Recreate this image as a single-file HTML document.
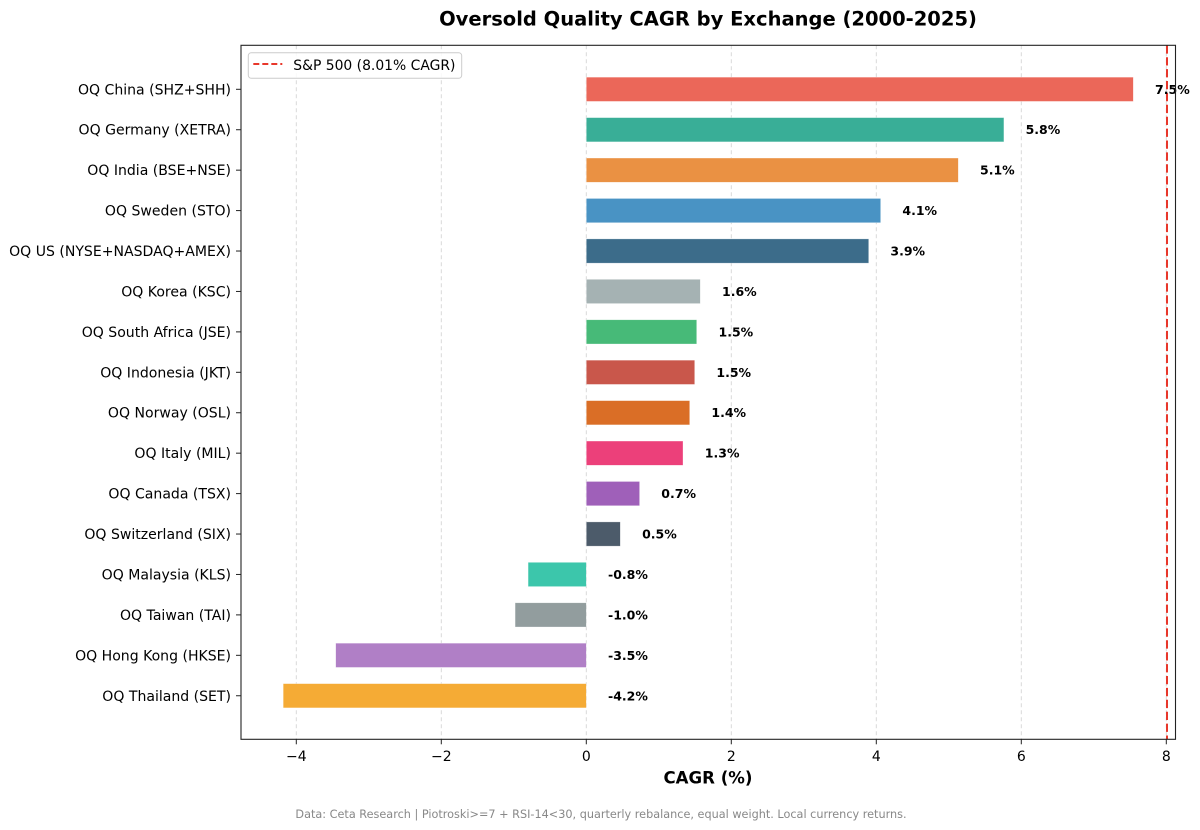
<!DOCTYPE html>
<html>
<head>
<meta charset="utf-8">
<style>
  html,body{margin:0;padding:0;background:#fff;}
  svg{display:block;}
  text{font-family:"DejaVu Sans","Liberation Sans",sans-serif;}
</style>
</head>
<body>
<svg width="1200" height="830" viewBox="0 0 1200 830" xmlns="http://www.w3.org/2000/svg">
  <rect width="1200" height="830" fill="#fff"/>
  <!-- Title -->
  <text x="708" y="25.5" font-size="19.5" font-weight="bold" text-anchor="middle" fill="#000">Oversold Quality CAGR by Exchange (2000-2025)</text>

  <!-- grid -->
  <g stroke="#d9d9d9" stroke-width="1" stroke-dasharray="4 3">
    <line x1="296.3" y1="45.3" x2="296.3" y2="739.3"/>
    <line x1="441.3" y1="45.3" x2="441.3" y2="739.3"/>
    <line x1="586.3" y1="45.3" x2="586.3" y2="739.3"/>
    <line x1="731.3" y1="45.3" x2="731.3" y2="739.3"/>
    <line x1="876.3" y1="45.3" x2="876.3" y2="739.3"/>
    <line x1="1021.3" y1="45.3" x2="1021.3" y2="739.3"/>
    <line x1="1166.3" y1="45.3" x2="1166.3" y2="739.3"/>
  </g>

  <!-- bars -->
  <g stroke="#ffffff" stroke-width="0.6" stroke-opacity="0.5">
    <rect x="586.3" y="77.17" width="547.0" height="24.26" fill="#eb6759"/>
    <rect x="586.3" y="117.6" width="417.6" height="24.26" fill="#39ae97"/>
    <rect x="586.3" y="158.03" width="372.0" height="24.26" fill="#ea9143"/>
    <rect x="586.3" y="198.46" width="294.35" height="24.26" fill="#4993c4"/>
    <rect x="586.3" y="238.89" width="282.4" height="24.26" fill="#3c6c8a"/>
    <rect x="586.3" y="279.32" width="114.0" height="24.26" fill="#a5b2b3"/>
    <rect x="586.3" y="319.75" width="110.4" height="24.26" fill="#47ba78"/>
    <rect x="586.3" y="360.18" width="108.4" height="24.26" fill="#c9574b"/>
    <rect x="586.3" y="400.61" width="103.4" height="24.26" fill="#da6e26"/>
    <rect x="586.3" y="441.04" width="96.7" height="24.26" fill="#ec407a"/>
    <rect x="586.3" y="481.47" width="53.3" height="24.26" fill="#9f60b9"/>
    <rect x="586.3" y="521.9" width="34.0" height="24.26" fill="#4c5b6a"/>
    <rect x="528.1" y="562.33" width="58.2" height="24.26" fill="#3cc6ab"/>
    <rect x="515.1" y="602.76" width="71.2" height="24.26" fill="#929d9e"/>
    <rect x="335.7" y="643.19" width="250.6" height="24.26" fill="#b07fc6"/>
    <rect x="283.2" y="683.62" width="303.1" height="24.26" fill="#f5ab35"/>
  </g>

  <!-- S&P line -->
  <line x1="1167" y1="45.3" x2="1167" y2="739.3" stroke="#e8372b" stroke-width="2" stroke-dasharray="8.3 3.6"/>

  <!-- value labels -->
  <g font-size="12.5" font-weight="bold" fill="#000">
    <text x="1155.05" y="93.8">7.5%</text>
    <text x="1025.6" y="134.2">5.8%</text>
    <text x="980.0" y="174.7">5.1%</text>
    <text x="902.4" y="215.1">4.1%</text>
    <text x="890.4" y="255.5">3.9%</text>
    <text x="722.0" y="296.0">1.6%</text>
    <text x="718.5" y="336.4">1.5%</text>
    <text x="716.4" y="376.8">1.5%</text>
    <text x="711.4" y="417.2">1.4%</text>
    <text x="704.8" y="457.7">1.3%</text>
    <text x="661.3" y="498.1">0.7%</text>
    <text x="642.1" y="538.5">0.5%</text>
    <text x="608.05" y="579.0">-0.8%</text>
    <text x="608.05" y="619.4">-1.0%</text>
    <text x="608.05" y="659.8">-3.5%</text>
    <text x="608.05" y="700.3">-4.2%</text>
  </g>

  <!-- axes frame -->
  <rect x="241" y="45.3" width="934.5" height="694" fill="none" stroke="#222" stroke-width="1.1"/>

  <!-- y ticks -->
  <g stroke="#222" stroke-width="1">
    <line x1="236" y1="89.3" x2="241" y2="89.3"/>
    <line x1="236" y1="129.73" x2="241" y2="129.73"/>
    <line x1="236" y1="170.16" x2="241" y2="170.16"/>
    <line x1="236" y1="210.59" x2="241" y2="210.59"/>
    <line x1="236" y1="251.02" x2="241" y2="251.02"/>
    <line x1="236" y1="291.45" x2="241" y2="291.45"/>
    <line x1="236" y1="331.88" x2="241" y2="331.88"/>
    <line x1="236" y1="372.31" x2="241" y2="372.31"/>
    <line x1="236" y1="412.74" x2="241" y2="412.74"/>
    <line x1="236" y1="453.17" x2="241" y2="453.17"/>
    <line x1="236" y1="493.6" x2="241" y2="493.6"/>
    <line x1="236" y1="534.03" x2="241" y2="534.03"/>
    <line x1="236" y1="574.46" x2="241" y2="574.46"/>
    <line x1="236" y1="614.89" x2="241" y2="614.89"/>
    <line x1="236" y1="655.32" x2="241" y2="655.32"/>
    <line x1="236" y1="695.75" x2="241" y2="695.75"/>
  </g>
  <g font-size="14.05" text-anchor="end" fill="#000">
    <text x="231" y="94.3">OQ China (SHZ+SHH)</text>
    <text x="231" y="134.7">OQ Germany (XETRA)</text>
    <text x="231" y="175.2">OQ India (BSE+NSE)</text>
    <text x="231" y="215.6">OQ Sweden (STO)</text>
    <text x="231" y="256.0">OQ US (NYSE+NASDAQ+AMEX)</text>
    <text x="231" y="296.5">OQ Korea (KSC)</text>
    <text x="231" y="336.9">OQ South Africa (JSE)</text>
    <text x="231" y="377.3">OQ Indonesia (JKT)</text>
    <text x="231" y="417.7">OQ Norway (OSL)</text>
    <text x="231" y="458.2">OQ Italy (MIL)</text>
    <text x="231" y="498.6">OQ Canada (TSX)</text>
    <text x="231" y="539.0">OQ Switzerland (SIX)</text>
    <text x="231" y="579.5">OQ Malaysia (KLS)</text>
    <text x="231" y="619.9">OQ Taiwan (TAI)</text>
    <text x="231" y="660.3">OQ Hong Kong (HKSE)</text>
    <text x="231" y="700.8">OQ Thailand (SET)</text>
  </g>

  <!-- x ticks -->
  <g stroke="#222" stroke-width="1">
    <line x1="296.3" y1="739.3" x2="296.3" y2="744.3"/>
    <line x1="441.3" y1="739.3" x2="441.3" y2="744.3"/>
    <line x1="586.3" y1="739.3" x2="586.3" y2="744.3"/>
    <line x1="731.3" y1="739.3" x2="731.3" y2="744.3"/>
    <line x1="876.3" y1="739.3" x2="876.3" y2="744.3"/>
    <line x1="1021.3" y1="739.3" x2="1021.3" y2="744.3"/>
    <line x1="1166.3" y1="739.3" x2="1166.3" y2="744.3"/>
  </g>
  <g font-size="14" text-anchor="middle" fill="#000">
    <text x="296.3" y="761">−4</text>
    <text x="441.3" y="761">−2</text>
    <text x="586.3" y="761">0</text>
    <text x="731.3" y="761">2</text>
    <text x="876.3" y="761">4</text>
    <text x="1021.3" y="761">6</text>
    <text x="1166.3" y="761">8</text>
  </g>
  <text x="708" y="783.3" font-size="16.6" font-weight="bold" text-anchor="middle" fill="#000">CAGR (%)</text>

  <!-- legend -->
  <rect x="248.3" y="52.7" width="213.4" height="25.6" rx="3" ry="3" fill="#fff" fill-opacity="0.8" stroke="#cccccc" stroke-width="1"/>
  <line x1="253.3" y1="64" x2="282.3" y2="64" stroke="#e8372b" stroke-width="2" stroke-dasharray="6 3"/>
  <text x="293.3" y="70" font-size="13.9" fill="#000">S&amp;P 500 (8.01% CAGR)</text>

  <!-- footer -->
  <text x="601" y="818" font-size="11.25" text-anchor="middle" fill="#888888">Data: Ceta Research | Piotroski&gt;=7 + RSI-14&lt;30, quarterly rebalance, equal weight. Local currency returns.</text>
</svg>
</body>
</html>
